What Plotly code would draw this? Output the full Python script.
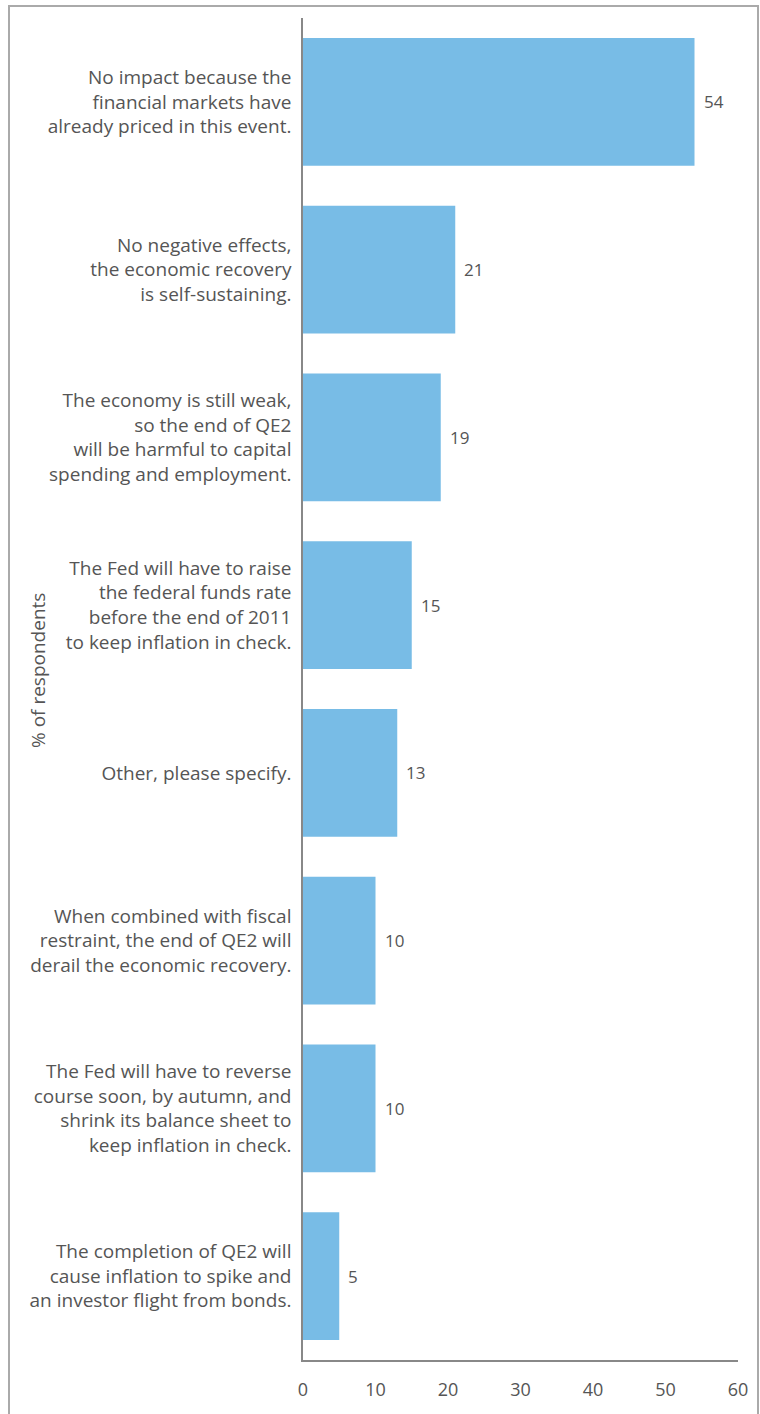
import plotly.graph_objects as go

categories = [
    "No impact because the<br>financial markets have<br>already priced in this event.",
    "No negative effects,<br>the economic recovery<br>is self-sustaining.",
    "The economy is still weak,<br>so the end of QE2<br>will be harmful to capital<br>spending and employment.",
    "The Fed will have to raise<br>the federal funds rate<br>before the end of 2011<br>to keep inflation in check.",
    "Other, please specify.",
    "When combined with fiscal<br>restraint, the end of QE2 will<br>derail the economic recovery.",
    "The Fed will have to reverse<br>course soon, by autumn, and<br>shrink its balance sheet to<br>keep inflation in check.",
    "The completion of QE2 will<br>cause inflation to spike and<br>an investor flight from bonds.",
]
values = [54, 21, 19, 15, 13, 10, 10, 5]
x_ticks = [0, 10, 20, 30, 40, 50, 60]

FONT = "Open Sans"
GREY = "#555555"

fig = go.Figure()
fig.add_trace(go.Bar(
    x=values, y=categories, orientation="h",
    marker=dict(color="#78BCE6", line=dict(width=0)),
    hoverinfo="skip",
))

for v, c in zip(values, categories):
    fig.add_annotation(x=v, y=c, text=str(v), showarrow=False,
                       xanchor="left", xshift=7, yshift=0,
                       font=dict(family=FONT, size=17, color=GREY))

# y-axis title as rotated annotation
fig.add_annotation(xref="paper", yref="paper", x=(38 - 303) / 435, y=(1360 - 671) / 1342,
                   text="% of respondents", textangle=-90, showarrow=False,
                   xanchor="center", yanchor="middle",
                   font=dict(family=FONT, size=19, color=GREY))

# outer frame
fig.add_shape(type="rect", xref="paper", yref="paper",
              x0=(9 - 303) / 435, x1=(758 - 303) / 435,
              y0=(1360 - 1440) / 1342, y1=(1360 - 6) / 1342,
              line=dict(color="#AAAAAA", width=2), fillcolor="rgba(0,0,0,0)", layer="below")

fig.update_layout(
    width=760, height=1414,
    margin=dict(l=303, r=22, t=18, b=54),
    paper_bgcolor="white", plot_bgcolor="white",
    bargap=0.237,
    showlegend=False,
    font=dict(family=FONT, color=GREY),
    xaxis=dict(range=[0, 60], tickvals=x_ticks, showgrid=False, zeroline=False,
               showline=True, linecolor="#888888", linewidth=1.5,
               ticks="", tickfont=dict(family=FONT, size=18, color=GREY),
               ticklabelstandoff=13),
    yaxis=dict(autorange="reversed", showgrid=False, zeroline=False,
               showline=True, linecolor="#888888", linewidth=1.5,
               ticks="", tickfont=dict(family=FONT, size=19, color=GREY),
               ticklabelstandoff=6),
)

fig.write_html("out.html")
